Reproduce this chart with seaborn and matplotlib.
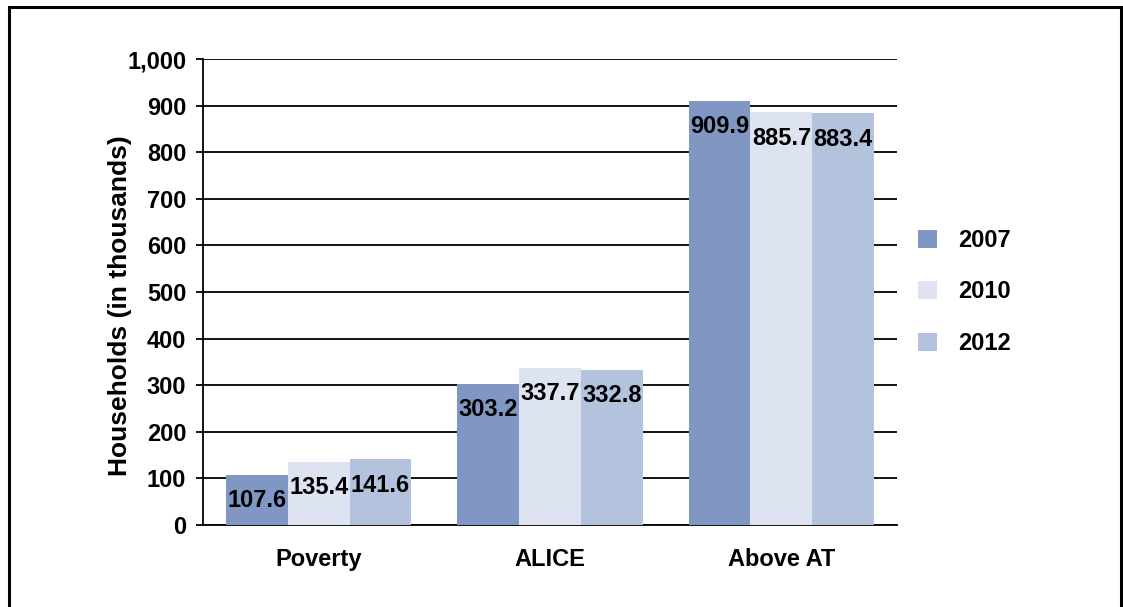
import matplotlib
matplotlib.use("Agg")
import matplotlib.pyplot as plt
import seaborn as sns
import pandas as pd
from matplotlib.patches import Rectangle
from matplotlib.ticker import FuncFormatter

categories = ["Poverty", "ALICE", "Above AT"]
years = ["2007", "2010", "2012"]
v2007 = [107.6, 303.2, 909.9]
v2010 = [135.4, 337.7, 885.7]
v2012 = [141.6, 332.8, 883.4]
colors = ["#7F97C2", "#DDE3F0", "#B3C2DD"]

rows = []
for yr, vals in zip(years, [v2007, v2010, v2012]):
    for c, v in zip(categories, vals):
        rows.append({"group": c, "year": yr, "value": v})
df = pd.DataFrame(rows)

sns.set_style("white")
plt.rcParams['font.family'] = ['Liberation Sans', 'DejaVu Sans']
plt.rcParams['text.color'] = 'black'
plt.rcParams['axes.labelcolor'] = 'black'
plt.rcParams['xtick.color'] = 'black'
plt.rcParams['ytick.color'] = 'black'

fig = plt.figure(figsize=(11.23, 6.07), dpi=100)
ax = fig.add_axes([203/1123, 1 - 525/607, (897-203)/1123, (525-59)/607])

sns.barplot(data=df, x="group", y="value", hue="year", palette=colors,
            width=0.8, saturation=1, ax=ax, zorder=3, edgecolor="none")

ax.set_ylim(0, 1000)
ax.set_xlim(-0.5, 2.5)
ax.set_yticks(range(0, 1001, 100))
ax.yaxis.set_major_formatter(FuncFormatter(lambda v, p: f"{int(v):,}"))
ax.yaxis.grid(True, color="black", linewidth=1.3, zorder=0)
ax.set_axisbelow(True)
for s in ["top", "right"]:
    ax.spines[s].set_visible(False)
ax.spines["left"].set_linewidth(1.3)
ax.spines["left"].set_color("black")
ax.spines["bottom"].set_linewidth(1.3)
ax.spines["bottom"].set_color("black")
ax.tick_params(axis="y", left=True, length=5, width=1.3, labelsize=17, pad=7)
ax.tick_params(axis="x", bottom=False, labelsize=17, pad=13)
for lbl in ax.get_xticklabels() + ax.get_yticklabels():
    lbl.set_fontweight("bold")
ax.set_xlabel("")
ax.set_ylabel("Households (in thousands)", fontsize=19, fontweight="bold")
ax.yaxis.set_label_coords(-0.102, 0.47)

for cont in ax.containers:
    ax.bar_label(cont, labels=[f"{v:.1f}" for v in cont.datavalues],
                 padding=-27, fontsize=17, fontweight="bold", color="black")

handles, labels = ax.get_legend_handles_labels()
ax.legend(handles, labels, loc="center left", bbox_to_anchor=(1.0, 0.5),
          frameon=False, prop={"weight": "bold", "size": 17},
          handlelength=0.8, handleheight=0.8, labelspacing=1.2, handletextpad=0.9)

fig.patches.append(Rectangle((9/1123, -0.05), (1121-9)/1123, 1 - 7/607 + 0.05,
                             transform=fig.transFigure, fill=False,
                             edgecolor="black", linewidth=2.2))

fig.savefig("out.png", dpi=100)
